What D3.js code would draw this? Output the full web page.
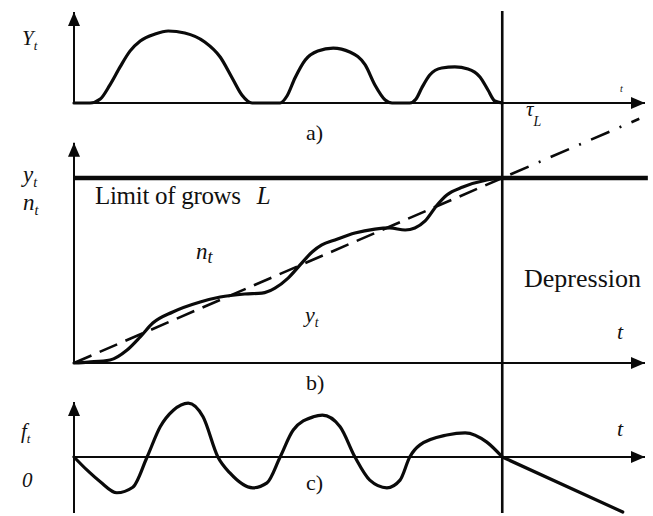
<!DOCTYPE html>
<html>
<head>
<meta charset="utf-8">
<script src="https://cdn.jsdelivr.net/npm/d3@7/dist/d3.min.js"></script>
<style>
  html, body { margin: 0; padding: 0; background: #fff; }
  svg { display: block; }
  text { font-family: "Liberation Serif", "DejaVu Serif", serif; fill: #111; }
</style>
</head>
<body>
<svg id="chart" width="653" height="516"></svg>
<script>
// ---- data ----------------------------------------------------------------
// time axis runs 0..100, the growth limit is reached at tL
const tL = 75;

// a) output Y_t: three shrinking waves of activity
const waveT = [0, 2.8, 4.6, 6.3, 8.1, 9.8, 11.6, 14.2, 16.5, 19.4, 22.9, 25.6, 27.7, 29.4, 31.2,
               36.1, 37.3, 38.7, 40.5, 42.7, 45.4, 48.3, 51.0, 52.7, 54.5, 55.7,
               58.8, 59.9, 60.9, 62.3, 64.4, 66.7, 69.0, 71.1, 72.5, 73.7, 75];
const waveY = [0, 0, 4.4, 20, 40, 57, 68.1, 75.8, 79.1, 76.9, 67, 50.5, 27.5, 8.8, 0,
               0, 7.7, 27.5, 47.3, 57.1, 60.4, 56, 41.8, 19.8, 3.3, 0,
               0, 4.4, 16.5, 30.8, 38.5, 39.6, 37.4, 28.6, 14.3, 2.2, 0];

// b) cumulative y_t oscillating around the trend n_t up to the limit L
const growT = [0, 2.5, 6.3, 9.3, 11.6, 13.8, 17.3, 22.1, 25.6, 29.9, 32.9, 35.2, 37.5, 39.6,
               41.7, 43.4, 45.7, 49.2, 52.7, 55.3, 58.0, 59.7, 61.5, 63.6, 65.3, 68.1, 72.3, 75];
const growY = [0, 0.5, 1.6, 7, 14.1, 21.6, 27.6, 33, 35.7, 37.3, 37.8, 40.5, 45.9, 53,
               60, 63.8, 66.5, 70.3, 72.4, 73, 71.9, 73, 76.8, 85.4, 90.8, 95.1, 98.9, 100];
const limitL = 100;
const trendT = [0, 75, 99];
const trendY = [0, 100, 132];

// c) growth rate f_t, then a steady decline after tL
const rateT = [0, 2.3, 4.6, 7.5, 10.3, 12.8, 15.1, 17.4, 20.0, 22.6, 25.2, 27.3, 31.3, 33.8, 36.1,
               38.4, 41.9, 43.5, 46.6, 49.2, 51.8, 54.8, 57.1, 58.8, 60.6, 65.3, 68.5, 72.3, 75, 96.1];
const rateY = [0, -0.24, -0.45, -0.65, -0.55, 0, 0.55, 0.85, 0.98, 0.73, 0, -0.29, -0.56, -0.47, 0,
               0.49, 0.73, 0.76, 0.55, 0, -0.42, -0.56, -0.42, 0, 0.22, 0.4, 0.44, 0.27, 0, -1.0];

// label texts
const panelLabels = ["a)", "b)", "c)"];
const limitLabel = "Limit of grows";
const phaseLabel = "Depression";

// ---- scales ---------------------------------------------------------------
const svg = d3.select("#chart");
const x = d3.scaleLinear().domain([0, 100]).range([74, 645]);
const yA = d3.scaleLinear().domain([0, 100]).range([103, 12]);
const yB = d3.scaleLinear().domain([0, 100]).range([363, 178]);
const yC = d3.scaleLinear().domain([-1, 1]).range([512, 402]);

const ink = "#0a0a0a";

// arrowhead
const defs = svg.append("defs");
defs.append("marker")
  .attr("id", "arrow")
  .attr("viewBox", "0 0 14 12")
  .attr("refX", 14).attr("refY", 6)
  .attr("markerWidth", 14).attr("markerHeight", 12)
  .attr("markerUnits", "userSpaceOnUse")
  .attr("orient", "auto")
  .append("path").attr("d", "M0,0 L14,6 L0,12 Z").attr("fill", ink);

function axisLine(x1, y1, x2, y2, w) {
  svg.append("line")
    .attr("x1", x1).attr("y1", y1).attr("x2", x2).attr("y2", y2)
    .attr("stroke", ink).attr("stroke-width", w || 2)
    .attr("marker-end", "url(#arrow)");
}

function curve(ts, vs, ys, w) {
  const pts = ts.map((t, i) => [t, vs[i]]);
  svg.append("path")
    .datum(pts)
    .attr("fill", "none")
    .attr("stroke", ink)
    .attr("stroke-width", w || 3)
    .attr("stroke-linejoin", "round")
    .attr("stroke-linecap", "round")
    .attr("d", d3.line().x(d => x(d[0])).y(d => ys(d[1])).curve(d3.curveMonotoneX));
}

// ---- panel a ---------------------------------------------------------------
axisLine(x(0), yA(0) + 1, x(0), yA(100) , 2);
axisLine(x(0), yA(0), x(100), yA(0), 2);
curve(waveT, waveY, yA, 3.2);

// ---- panel b ---------------------------------------------------------------
axisLine(x(0), yB(0) + 1, x(0), yB(119), 2);
axisLine(x(0), yB(0), x(100), yB(0), 2);
svg.append("line")
  .attr("x1", x(0)).attr("x2", x(100.5))
  .attr("y1", yB(limitL)).attr("y2", yB(limitL))
  .attr("stroke", ink).attr("stroke-width", 4.5);

// trend n_t: dashed up to tL, dash-dot beyond
svg.append("line")
  .attr("x1", x(trendT[0])).attr("y1", yB(trendY[0]))
  .attr("x2", x(trendT[1])).attr("y2", yB(trendY[1]))
  .attr("stroke", ink).attr("stroke-width", 2.6)
  .attr("stroke-dasharray", "19 9");
svg.append("line")
  .attr("x1", x(trendT[1]) + 8).attr("y1", yB(trendY[1]) - 3.5)
  .attr("x2", x(trendT[2])).attr("y2", yB(trendY[2]))
  .attr("stroke", ink).attr("stroke-width", 2.6)
  .attr("stroke-dasharray", "20 11 2 11");
curve(growT, growY, yB, 3.2);

// ---- panel c ---------------------------------------------------------------
axisLine(x(0), yC(-1.02), x(0), yC(1), 2);
axisLine(x(0), yC(0), x(100), yC(0), 2);
curve(rateT.slice(0, -1), rateY.slice(0, -1), yC, 3.2);
svg.append("line")
  .attr("x1", x(rateT[rateT.length - 2])).attr("y1", yC(rateY[rateY.length - 2]))
  .attr("x2", x(rateT[rateT.length - 1])).attr("y2", yC(rateY[rateY.length - 1]))
  .attr("stroke", ink).attr("stroke-width", 3.2).attr("stroke-linecap", "round");

// the moment tL crosses all three panels
svg.append("line")
  .attr("x1", x(tL)).attr("x2", x(tL))
  .attr("y1", 11).attr("y2", 513)
  .attr("stroke", ink).attr("stroke-width", 2.6);

// ---- labels ----------------------------------------------------------------
function subLabel(px, py, main, sub, size, opts) {
  opts = opts || {};
  const t = svg.append("text")
    .attr("x", px).attr("y", py)
    .attr("font-size", size)
    .attr("font-style", "italic");
  t.append("tspan").text(main);
  t.append("tspan")
    .attr("font-size", opts.subSize || size * 0.62)
    .attr("dy", opts.subDy || size * 0.22)
    .text(sub);
  return t;
}

subLabel(22, 45, "Y", "t", 21);
subLabel(23, 182, "y", "t", 23);
subLabel(23, 210, "n", "t", 23);
subLabel(21, 438, "f", "t", 21, { subDy: 0 });
svg.append("text").attr("x", 22).attr("y", 487)
  .attr("font-size", 21).attr("font-style", "italic").text("0");

subLabel(196, 259, "n", "t", 23, { subSize: 18, subDy: 4 });
subLabel(305, 322, "y", "t", 22);

// tau_L under the first axis
subLabel(526, 116, "\u03C4", "L", 21, { subSize: 14, subDy: 10 });

svg.append("text").attr("x", 620).attr("y", 92)
  .attr("font-size", 10).attr("font-style", "italic").text("t");
svg.append("text").attr("x", 617).attr("y", 339)
  .attr("font-size", 22).attr("font-style", "italic").text("t");
svg.append("text").attr("x", 617).attr("y", 436)
  .attr("font-size", 22).attr("font-style", "italic").text("t");

// panel captions
const capY = [140, 390, 490];
panelLabels.forEach((lab, i) => {
  svg.append("text").attr("x", 306).attr("y", capY[i])
    .attr("font-size", 22).text(lab);
});

const lim = svg.append("text").attr("x", 95).attr("y", 204).attr("font-size", 25);
lim.append("tspan").attr("letter-spacing", -0.3).text(limitLabel);
lim.append("tspan").attr("dx", 16).attr("font-style", "italic").text("L");

svg.append("text").attr("x", 524).attr("y", 287)
  .attr("font-size", 26).text(phaseLabel);
</script>
</body>
</html>
